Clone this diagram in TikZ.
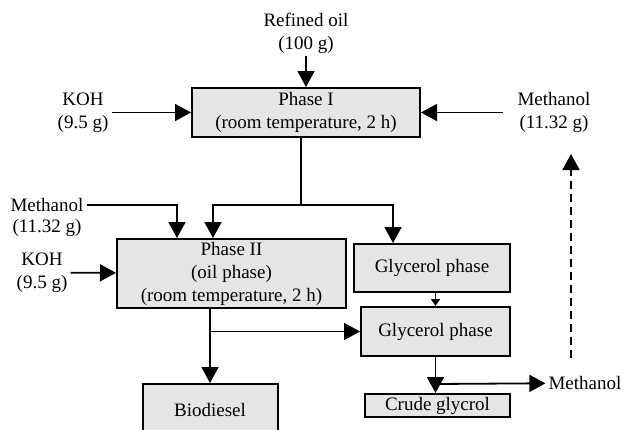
\documentclass[tikz,border=0pt]{standalone}
\usepackage{fontspec}
\setmainfont{Liberation Serif}
\usetikzlibrary{arrows.meta, calc, positioning}
\definecolor{boxgrau}{RGB}{229,229,229}

\begin{document}
\begin{tikzpicture}[x=1pt, y=-1pt,
    font=\fontsize{19}{23}\selectfont,
    box/.style={draw, line width=2pt, fill=boxgrau, align=center, inner sep=1pt},
    txt/.style={align=center, inner sep=3pt},
    linie/.style={line width=1.8pt},
    pfeil/.style={line width=1.8pt, -{Triangle[length=16pt, width=17pt]}}]

    \useasboundingbox (0,0) rectangle (624,429);

    % Phase I
    \node[box, minimum width=228, minimum height=49] (phase1) at (306,112.5) {Phase I\\(room temperature, 2 h)};
    \node[txt] (oil) at (306,33) {Refined oil\\(100 g)};
    \node[txt] (koh1) at (83,112.5) {KOH\\(9.5 g)};
    \node[txt] (meth1) at (554,112.5) {Methanol\\(11.32 g)};

    \draw[pfeil] (oil) -- (phase1);
    \draw[pfeil] (koh1) -- (phase1);
    \draw[pfeil, shorten <=11pt] (meth1) -- (phase1);

    % Phase II
    \node[box, minimum width=229, minimum height=69] (phase2) at (231.5,273.5) {Phase II\\(oil phase)\\(room temperature, 2 h)};
    \node[txt] (meth2) at (47,205) {Methanol};
    \node[txt] (meth2g) at (47,228) {(11.32 g)};
    \node[txt] (koh2) at (42,272.5) {KOH\\(9.5 g)};

    \node[box, minimum width=156, minimum height=48] (glyc1) at (432,268) {Glycerol phase};
    \node[box, minimum width=149, minimum height=49] (glyc2) at (435.5,331.5) {Glycerol phase};

    \coordinate (j1) at (301,205);
    \draw[linie] (phase1.south -| j1) -- (j1);
    \draw[pfeil] (j1) -| ([xshift=-18.5pt]phase2.north);
    \draw[pfeil] (j1) -| ([xshift=-39pt]glyc1.north);

    \draw[pfeil] (meth2) -| ([xshift=-54.5pt]phase2.north);
    \draw[pfeil] (koh2) -- (phase2);

    \draw[line width=1.4pt, -{Triangle[length=7pt, width=9pt]}] (glyc1.south -| glyc2) -- (glyc2);

    % products
    \node[box, minimum width=135, minimum height=52] (bio) at (210,410) {Biodiesel};
    \node[box, minimum width=145, minimum height=23] (crude) at (437.5,405.5) {Crude glycrol};
    \node[txt] (meth3) at (585,383) {Methanol};

    \draw[pfeil] (phase2.south -| bio) -- (bio);
    \draw[pfeil] (bio.north |- glyc2) -- (glyc2);

    \draw[pfeil] (glyc2.south) -- (glyc2.south |- crude.north);
    \coordinate (j3) at ($(glyc2.south)+(0,27)$);
    \draw[pfeil] (j3) -- (meth3);

    % methanol recycle
    \coordinate (d1) at (571,358);
    \coordinate (d2) at (571,154);
    \draw[pfeil, dash pattern=on 8pt off 5pt] (d1) -- (d2);

\end{tikzpicture}
\end{document}
